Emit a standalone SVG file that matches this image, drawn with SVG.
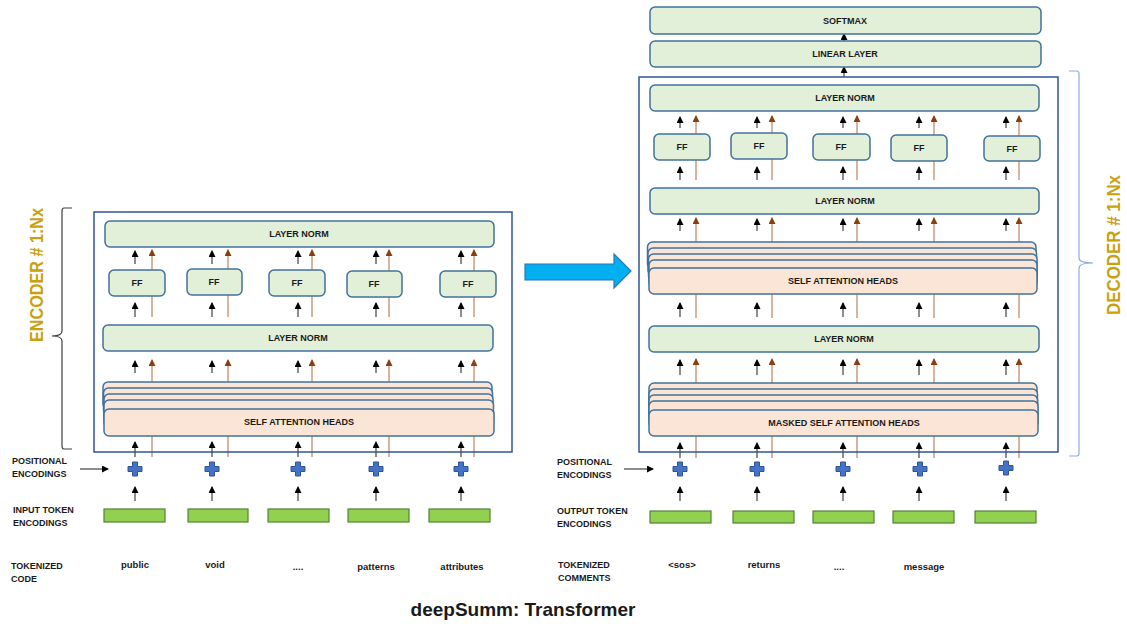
<svg xmlns="http://www.w3.org/2000/svg" width="1127" height="624" viewBox="0 0 1127 624">
<style>
.g{fill:#E2F0D9;stroke:#41719C;stroke-width:1.5}
.s{fill:#FBE5D6;stroke:#41719C;stroke-width:1.5}
.tok{fill:#92D050;stroke:#548235;stroke-width:1.2}
.frame{fill:none;stroke:#2F5597;stroke-width:1.5}
.t{font-family:"Liberation Sans",Arial,sans-serif;font-weight:bold;font-size:9px;fill:#1a1a1a;text-anchor:middle}
.l{font-family:"Liberation Sans",Arial,sans-serif;font-weight:bold;font-size:9px;fill:#1a1a1a}
.w{font-family:"Liberation Sans",Arial,sans-serif;font-weight:bold;font-size:9.5px;fill:#1a1a1a;text-anchor:middle}
.big{font-family:"Liberation Sans",Arial,sans-serif;font-weight:bold;font-size:18px;fill:#C9A10F;text-anchor:middle}
.b{stroke:#505050;stroke-width:1.3;fill:none;marker-end:url(#hb)}
.r{stroke:#C89478;stroke-width:1.4;fill:none;marker-end:url(#hr)}
.rn{stroke:#C89478;stroke-width:1.4;fill:none}
</style>
<defs>
<marker id="hb" markerUnits="userSpaceOnUse" markerWidth="8" markerHeight="8" refX="6" refY="3.5" orient="auto"><path d="M0,0 L7,3.5 L0,7 z" fill="#000"/></marker>
<marker id="hr" markerUnits="userSpaceOnUse" markerWidth="8" markerHeight="8" refX="6" refY="3.5" orient="auto"><path d="M0,0 L7,3.5 L0,7 z" fill="#8B3E0F"/></marker>
<path id="plus" d="M-2.5,-7 h5 v4.5 h4.5 v5 h-4.5 v4.5 h-5 v-4.5 h-4.5 v-5 h4.5 z" fill="#4472C4" stroke="#2F5597" stroke-width="1"/>
</defs>
<rect width="1127" height="624" fill="#fff"/>

<g id="connectors">
<!-- encoder: above FF -->
<path class="b" d="M135,264V251"/><path class="b" d="M212,264V251"/><path class="b" d="M298,264V251"/><path class="b" d="M376,264V251"/><path class="b" d="M461,264V251"/>
<path class="r" d="M152,317V250"/><path class="r" d="M228,317V250"/><path class="r" d="M312,317V250"/><path class="r" d="M389,317V250"/><path class="r" d="M474,317V250"/>
<!-- below FF -->
<path class="b" d="M135,317V303"/><path class="b" d="M212,317V303"/><path class="b" d="M298,317V303"/><path class="b" d="M376,317V303"/><path class="b" d="M461,317V303"/>
<!-- above self attention -->
<path class="b" d="M135,373V361"/><path class="b" d="M212,373V361"/><path class="b" d="M298,373V361"/><path class="b" d="M376,373V361"/><path class="b" d="M461,373V361"/>
<path class="r" d="M152,382V360"/><path class="r" d="M228,382V360"/><path class="r" d="M312,382V360"/><path class="r" d="M389,382V360"/><path class="r" d="M474,382V360"/>
<!-- below self attention -->
<path class="b" d="M135,457V442"/><path class="b" d="M212,457V442"/><path class="b" d="M298,457V442"/><path class="b" d="M376,457V442"/><path class="b" d="M461,457V442"/>
<path class="rn" d="M152,436V457M228,436V457M312,436V457M389,436V457M474,436V457"/>
<!-- token to plus -->
<path class="b" d="M135,501V487"/><path class="b" d="M212,501V487"/><path class="b" d="M298,501V487"/><path class="b" d="M376,501V487"/><path class="b" d="M461,501V487"/>
<path class="b" d="M80,469H108"/>

<!-- decoder -->
<path class="b" d="M844,41V34"/><path class="b" d="M844,77V67"/>
<path class="b" d="M680,128V117"/><path class="b" d="M757,128V117"/><path class="b" d="M843,128V117"/><path class="b" d="M919,128V117"/><path class="b" d="M1006,128V117"/>
<path class="r" d="M696,180V116"/><path class="r" d="M772,180V116"/><path class="r" d="M857,180V116"/><path class="r" d="M934,180V116"/><path class="r" d="M1019,180V116"/>
<path class="b" d="M680,180V167"/><path class="b" d="M757,180V167"/><path class="b" d="M843,180V167"/><path class="b" d="M919,180V167"/><path class="b" d="M1006,180V167"/>
<path class="b" d="M680,231V219"/><path class="b" d="M757,231V219"/><path class="b" d="M843,231V219"/><path class="b" d="M919,231V219"/><path class="b" d="M1006,231V219"/>
<path class="r" d="M696,242V218"/><path class="r" d="M772,242V218"/><path class="r" d="M857,242V218"/><path class="r" d="M934,242V218"/><path class="r" d="M1019,242V218"/>
<path class="b" d="M680,317V303"/><path class="b" d="M757,317V303"/><path class="b" d="M843,317V303"/><path class="b" d="M919,317V303"/><path class="b" d="M1006,317V303"/>
<path class="rn" d="M696,294V318M772,294V318M857,294V318M934,294V318M1019,294V318"/>
<path class="b" d="M680,375V360"/><path class="b" d="M757,375V360"/><path class="b" d="M843,375V360"/><path class="b" d="M919,375V360"/><path class="b" d="M1006,375V360"/>
<path class="r" d="M696,383V359"/><path class="r" d="M772,383V359"/><path class="r" d="M857,383V359"/><path class="r" d="M934,383V359"/><path class="r" d="M1019,383V359"/>
<path class="b" d="M680,458V443"/><path class="b" d="M757,458V443"/><path class="b" d="M843,458V443"/><path class="b" d="M919,458V443"/><path class="b" d="M1006,458V443"/>
<path class="rn" d="M696,436V458M772,436V458M857,436V458M934,436V458M1019,436V458"/>
<path class="b" d="M680,501V487"/><path class="b" d="M757,501V487"/><path class="b" d="M843,501V487"/><path class="b" d="M919,501V487"/><path class="b" d="M1006,501V487"/>
<path class="b" d="M624,469H653"/>
<!-- big arrow -->
<path d="M525,264 H614 V254 L631,271 L614,288 V280 H525 Z" fill="#00B0F0" stroke="#2E75B6" stroke-width="1.2"/>
</g>

<g id="encoder">
<path d="M72,208 H64 Q62,208 62,211 V331 Q62,336 52,336 Q62,336 62,341 V446 Q62,449 64,449 H72" fill="none" stroke="#404040" stroke-width="1.2"/>
<text class="big" transform="translate(43,275) rotate(-90)" textLength="134" lengthAdjust="spacingAndGlyphs">ENCODER # 1:Nx</text>
<rect class="frame" x="94" y="212" width="418" height="240"/>
</g>

<g id="enc-layernorm-top"><rect class="g" x="105" y="221" width="389" height="26" rx="5"/><text class="t" x="299" y="237">LAYER NORM</text></g>
<g id="enc-ff1"><rect class="g" x="109" y="270" width="56" height="26" rx="5"/><text class="t" x="137" y="286">FF</text></g>
<g id="enc-ff2"><rect class="g" x="187" y="269" width="55" height="26" rx="5"/><text class="t" x="214" y="285">FF</text></g>
<g id="enc-ff3"><rect class="g" x="269" y="270" width="56" height="26" rx="5"/><text class="t" x="297" y="286">FF</text></g>
<g id="enc-ff4"><rect class="g" x="347" y="271" width="55" height="26" rx="5"/><text class="t" x="374" y="287">FF</text></g>
<g id="enc-ff5"><rect class="g" x="440" y="271" width="56" height="26" rx="5"/><text class="t" x="468" y="287">FF</text></g>
<g id="enc-layernorm-mid"><rect class="g" x="103" y="325" width="390" height="26" rx="5"/><text class="t" x="298" y="341">LAYER NORM</text></g>
<g id="enc-self-attention">
<rect class="s" x="103" y="382" width="389" height="27" rx="5"/>
<rect class="s" x="103.5" y="388" width="389" height="27" rx="5"/>
<rect class="s" x="104" y="394" width="389" height="27" rx="5"/>
<rect class="s" x="104" y="400" width="389.5" height="27" rx="5"/>
<rect class="s" x="104" y="409" width="390" height="27" rx="5"/>
<text class="t" x="299" y="425">SELF ATTENTION HEADS</text>
</g>

<g id="enc-inputs">
<text class="l" x="12" y="464">POSITIONAL</text><text class="l" x="12" y="477">ENCODINGS</text>
<use href="#plus" x="135" y="469"/><use href="#plus" x="212" y="469"/><use href="#plus" x="298" y="469"/><use href="#plus" x="376" y="469"/><use href="#plus" x="461" y="469"/>
<text class="l" x="13" y="513">INPUT TOKEN</text><text class="l" x="13" y="526">ENCODINGS</text>
<rect class="tok" x="104" y="509" width="61" height="13"/><rect class="tok" x="188" y="509" width="60" height="13"/><rect class="tok" x="268" y="509" width="61" height="13"/><rect class="tok" x="348" y="509" width="61" height="13"/><rect class="tok" x="429" y="509" width="61" height="13"/>
<text class="l" x="11" y="569">TOKENIZED</text><text class="l" x="11" y="582">CODE</text>
<text class="w" x="135" y="568">public</text><text class="w" x="215" y="568">void</text><text class="w" x="298" y="570">....</text><text class="w" x="376" y="570">patterns</text><text class="w" x="462" y="570">attributes</text>
</g>

<g id="softmax"><rect class="g" x="650" y="7" width="391" height="27" rx="5"/><text class="t" x="845" y="24">SOFTMAX</text></g>
<g id="linear-layer"><rect class="g" x="650" y="41" width="391" height="26" rx="5"/><text class="t" x="845" y="57">LINEAR LAYER</text></g>

<g id="decoder">
<path d="M1069,71 H1077 Q1079,71 1079,74 V258 Q1079,263 1093,263 Q1079,263 1079,268 V453 Q1079,456 1077,456 H1069" fill="none" stroke="#8FAADC" stroke-width="1.2"/>
<text class="big" transform="translate(1120,245) rotate(-90)" textLength="140" lengthAdjust="spacingAndGlyphs">DECODER # 1:Nx</text>
<rect class="frame" x="639" y="77" width="419" height="375"/>
</g>

<g id="dec-layernorm-top"><rect class="g" x="650" y="85" width="389" height="26" rx="5"/><text class="t" x="845" y="101">LAYER NORM</text></g>
<g id="dec-ff1"><rect class="g" x="654" y="134" width="56" height="26" rx="5"/><text class="t" x="682" y="150">FF</text></g>
<g id="dec-ff2"><rect class="g" x="731" y="133" width="56" height="26" rx="5"/><text class="t" x="759" y="149">FF</text></g>
<g id="dec-ff3"><rect class="g" x="813" y="134" width="57" height="26" rx="5"/><text class="t" x="841" y="150">FF</text></g>
<g id="dec-ff4"><rect class="g" x="891" y="135" width="56" height="26" rx="5"/><text class="t" x="919" y="151">FF</text></g>
<g id="dec-ff5"><rect class="g" x="984" y="136" width="56" height="25" rx="5"/><text class="t" x="1012" y="152">FF</text></g>
<g id="dec-layernorm-2"><rect class="g" x="650" y="188" width="389" height="26" rx="5"/><text class="t" x="845" y="204">LAYER NORM</text></g>
<g id="dec-self-attention">
<rect class="s" x="647.5" y="242" width="388.5" height="27" rx="5"/>
<rect class="s" x="648" y="248" width="388.5" height="27" rx="5"/>
<rect class="s" x="648.5" y="254" width="388.5" height="27" rx="5"/>
<rect class="s" x="649" y="260" width="388" height="27" rx="5"/>
<rect class="s" x="649" y="268" width="388" height="26" rx="5"/>
<text class="t" x="843" y="284">SELF ATTENTION HEADS</text>
</g>
<g id="dec-layernorm-3"><rect class="g" x="649" y="326" width="390" height="26" rx="5"/><text class="t" x="844" y="342">LAYER NORM</text></g>
<g id="dec-masked-attention">
<rect class="s" x="649" y="383" width="388" height="27" rx="5"/>
<rect class="s" x="649" y="389" width="388.5" height="27" rx="5"/>
<rect class="s" x="649" y="395" width="388.5" height="27" rx="5"/>
<rect class="s" x="649" y="401" width="389" height="27" rx="5"/>
<rect class="s" x="649" y="410" width="389" height="26" rx="5"/>
<text class="t" x="844" y="426">MASKED SELF ATTENTION HEADS</text>
</g>

<g id="dec-inputs">
<text class="l" x="557" y="465">POSITIONAL</text><text class="l" x="557" y="478">ENCODINGS</text>
<use href="#plus" x="680" y="469"/><use href="#plus" x="757" y="469"/><use href="#plus" x="843" y="469"/><use href="#plus" x="920" y="469"/><use href="#plus" x="1006" y="468"/>
<text class="l" x="557" y="514">OUTPUT TOKEN</text><text class="l" x="557" y="527">ENCODINGS</text>
<rect class="tok" x="650" y="511" width="61" height="12"/><rect class="tok" x="733" y="511" width="61" height="12"/><rect class="tok" x="813" y="511" width="61" height="12"/><rect class="tok" x="893" y="511" width="61" height="12"/><rect class="tok" x="975" y="511" width="61" height="12"/>
<text class="l" x="558" y="568">TOKENIZED</text><text class="l" x="558" y="581">COMMENTS</text>
<text class="w" x="682" y="568">&lt;sos&gt;</text><text class="w" x="764" y="568">returns</text><text class="w" x="839" y="570">....</text><text class="w" x="924" y="570">message</text>
</g>

<g id="title"><text x="523" y="616" font-family="Liberation Sans, Arial, sans-serif" font-weight="bold" font-size="19" fill="#1a1a1a" text-anchor="middle">deepSumm: Transformer</text></g>
</svg>
